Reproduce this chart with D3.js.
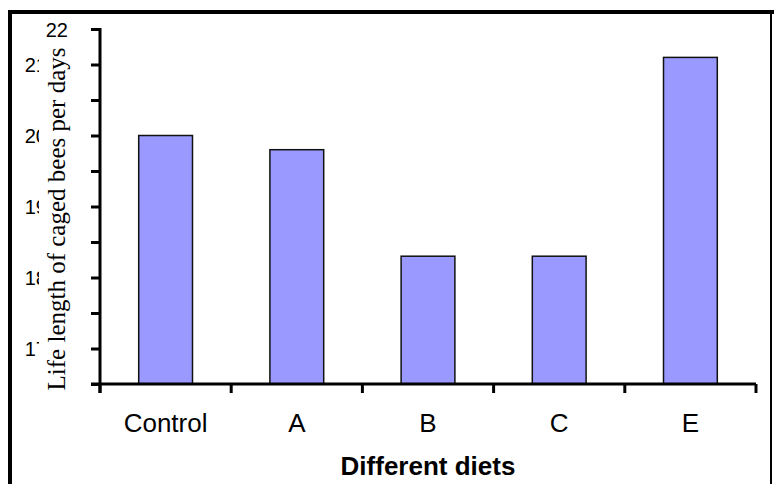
<!DOCTYPE html>
<html><head><meta charset="utf-8">
<script src="https://cdn.jsdelivr.net/npm/d3@7"></script>
<style>html,body{margin:0;padding:0;background:#fff;}svg{display:block;}</style>
</head><body>
<svg id="chart" width="774" height="484"></svg>
<script>
const categories = ["Control", "A", "B", "C", "E"];
const values = [20.0, 19.8, 18.3, 18.3, 21.1];
const tickValues = [16.5, 17, 17.5, 18, 18.5, 19, 19.5, 20, 20.5, 21, 21.5];
const tickLabels = ["", "17", "", "18", "", "19", "", "20", "", "21", ""];
const topLabel = "22";
const xTitle = "Different diets";
const yTitle = "Life length of caged bees per days";

const svg = d3.select("#chart");
const x = d3.scaleBand().domain(categories).range([100, 756]).paddingInner(0.59).paddingOuter(0.295);
const y = d3.scaleLinear().domain([16.5, 21.5]).range([384, 29]);

// outer frame
svg.append("line").attr("x1", 8).attr("x2", 774).attr("y1", 12).attr("y2", 12).attr("stroke", "#000").attr("stroke-width", 4);
svg.append("line").attr("x1", 10).attr("x2", 10).attr("y1", 10).attr("y2", 484).attr("stroke", "#000").attr("stroke-width", 4);
svg.append("line").attr("x1", 771).attr("x2", 771).attr("y1", 10).attr("y2", 484).attr("stroke", "#000").attr("stroke-width", 2);

// bars
svg.selectAll("rect.bar").data(categories).join("rect").attr("class", "bar")
  .attr("x", d => x(d)).attr("width", x.bandwidth())
  .attr("y", (d, i) => y(values[i])).attr("height", (d, i) => y(16.5) - y(values[i]))
  .attr("fill", "#9999FF").attr("stroke", "#111").attr("stroke-width", 1.5);

// y axis
const yAxis = d3.axisLeft(y).tickValues(tickValues).tickSize(9).tickSizeOuter(0)
  .tickFormat((d, i) => tickLabels[i]);
const gy = svg.append("g").attr("transform", "translate(100,0)").call(yAxis);
gy.select(".domain").attr("stroke", "#000").attr("stroke-width", 3).attr("d", "M0," + (y(21.5) - 1) + "V" + (y(16.5) + 9));
gy.selectAll(".tick line").attr("stroke", "#000").attr("stroke-width", 3);
gy.selectAll(".tick text").attr("x", -53).attr("dy", "0.35em").attr("text-anchor", "end")
  .attr("font-family", "Liberation Sans, Arial, sans-serif").attr("font-size", 20).attr("fill", "#000");
gy.append("text").attr("x", -32).attr("y", y(21.5)).attr("dy", "0.38em").attr("text-anchor", "end")
  .attr("font-family", "Liberation Sans, Arial, sans-serif").attr("font-size", 20).attr("fill", "#000").text(topLabel);

// x axis
const xTicks = categories.map(c => x(c) - x.step() * x.paddingInner() / 2).concat([756]);
const gx = svg.append("g").attr("transform", "translate(0,384)");
gx.append("path").attr("d", "M91,0H756").attr("stroke", "#000").attr("stroke-width", 3).attr("fill", "none");
gx.selectAll("line.xt").data(xTicks).join("line").attr("class", "xt")
  .attr("x1", d => d).attr("x2", d => d).attr("y1", 0).attr("y2", 9)
  .attr("stroke", "#000").attr("stroke-width", 3);
gx.selectAll("text.xl").data(categories).join("text").attr("class", "xl")
  .attr("x", d => x(d) + x.bandwidth() / 2).attr("y", 48).attr("text-anchor", "middle")
  .attr("font-family", "Liberation Sans, Arial, sans-serif").attr("font-size", 26).attr("fill", "#000")
  .text(d => d);

// x title
svg.append("text").attr("x", 428).attr("y", 475).attr("text-anchor", "middle")
  .attr("font-family", "Liberation Sans, Arial, sans-serif").attr("font-size", 26).attr("font-weight", "bold")
  .attr("fill", "#000").text(xTitle);

// y title with white background box
svg.append("rect").attr("x", 39).attr("y", 42).attr("width", 31.5).attr("height", 356).attr("fill", "#fff");
svg.append("text").attr("transform", "translate(65,219) rotate(-90)").attr("text-anchor", "middle")
  .attr("font-family", "Liberation Serif, Times New Roman, serif").attr("font-size", 25).attr("fill", "#000")
  .text(yTitle);
</script>
</body></html>
